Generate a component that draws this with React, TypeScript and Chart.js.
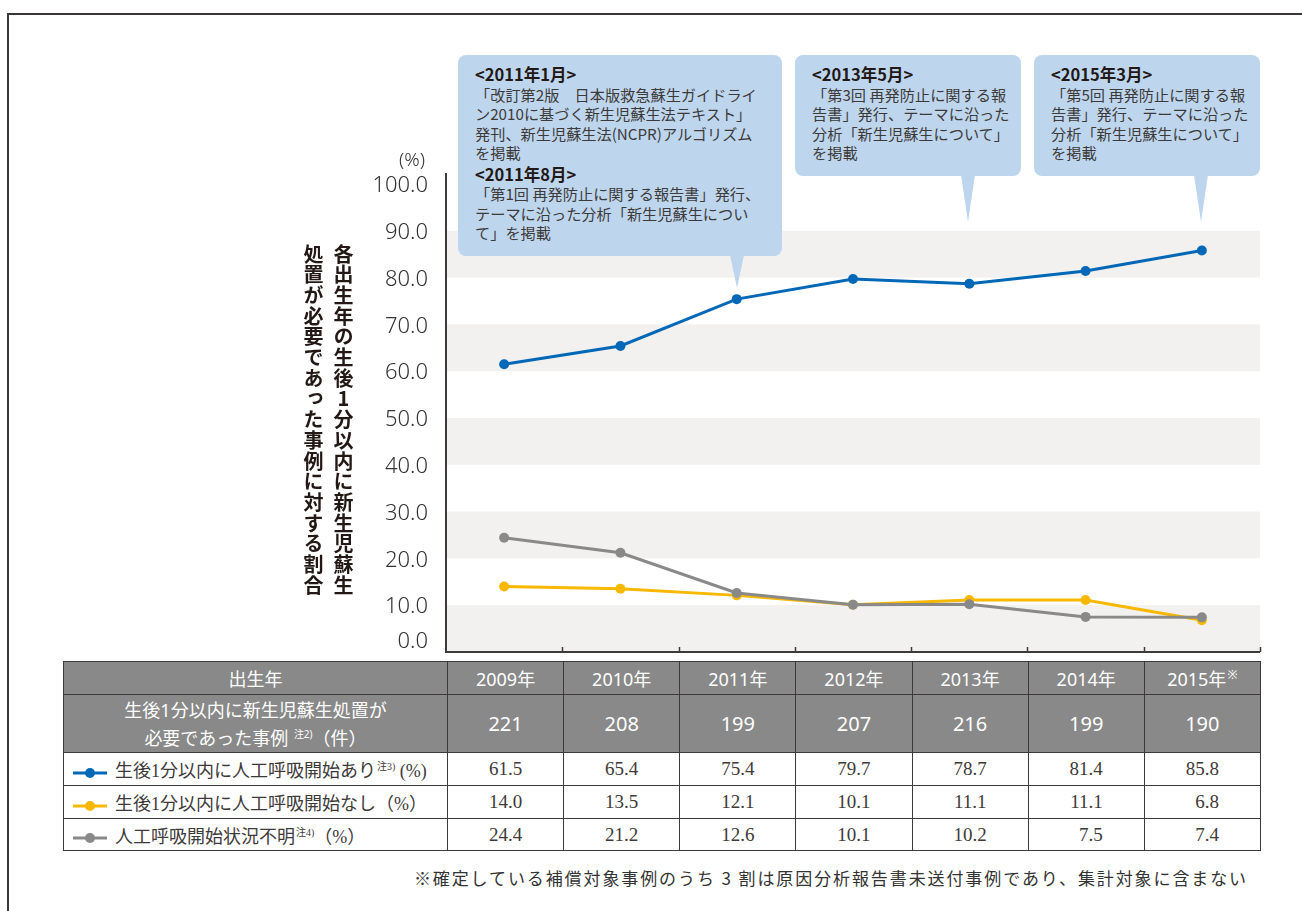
import React, { useEffect, useRef } from "react";
import { Chart, registerables } from "chart.js";

Chart.register(...registerables);

// ---------- data ----------
const years = ["2009年", "2010年", "2011年", "2012年", "2013年", "2014年", "2015年"];
const caseCounts = [221, 208, 199, 207, 216, 199, 190];
const withVentilation = [61.5, 65.4, 75.4, 79.7, 78.7, 81.4, 85.8];
const withoutVentilation = [14.0, 13.5, 12.1, 10.1, 11.1, 11.1, 6.8];
const unknownVentilation = [24.4, 21.2, 12.6, 10.1, 10.2, 7.5, 7.4];
const yTickValues = [0, 10, 20, 30, 40, 50, 60, 70, 80, 90, 100];
const bandStarts = [0, 20, 40, 60, 80];
const seriesNames = [
  "生後1分以内に人工呼吸開始あり",
  "生後1分以内に人工呼吸開始なし",
  "人工呼吸開始状況不明",
];
const seriesNotes = ["注3)", "", "注4)"];
const seriesColors = ["#0068b7", "#f8b800", "#898989"];

const callout1Lines = [
  { t: "<2011年1月>", b: true },
  { t: "「改訂第2版　日本版救急蘇生ガイドライ" },
  { t: "ン2010に基づく新生児蘇生法テキスト」" },
  { t: "発刊、新生児蘇生法(NCPR)アルゴリズム" },
  { t: "を掲載" },
  { t: "<2011年8月>", b: true, gap: true },
  { t: "「第1回 再発防止に関する報告書」発行、" },
  { t: "テーマに沿った分析「新生児蘇生につい" },
  { t: "て」を掲載" },
];
const callout2Lines = [
  { t: "<2013年5月>", b: true },
  { t: "「第3回 再発防止に関する報" },
  { t: "告書」発行、テーマに沿った" },
  { t: "分析「新生児蘇生について」" },
  { t: "を掲載" },
];
const callout3Lines = [
  { t: "<2015年3月>", b: true },
  { t: "「第5回 再発防止に関する報" },
  { t: "告書」発行、テーマに沿った" },
  { t: "分析「新生児蘇生について」" },
  { t: "を掲載" },
];

const DARK = "#3e3a39";
const CALLOUT_BG = "#bdd6ee";
const HEAD_BG = "#898989";

const CanvasChart: React.FC = () => {
  const ref = useRef<HTMLCanvasElement | null>(null);
  useEffect(() => {
    if (!ref.current) return;
    const decor = {
      id: "decor",
      beforeDatasetsDraw(chart: any) {
        const { ctx, chartArea } = chart;
        const y = chart.scales.y;
        const x = chart.scales.x;
        ctx.save();
        ctx.fillStyle = "#f2f1ef";
        bandStarts.forEach((b) => {
          const top = y.getPixelForValue(b + 10);
          const bot = y.getPixelForValue(b);
          ctx.fillRect(chartArea.left, top, chartArea.right - chartArea.left, bot - top);
        });
        ctx.strokeStyle = DARK;
        ctx.lineWidth = 2;
        ctx.beginPath();
        ctx.moveTo(chartArea.left, chartArea.top);
        ctx.lineTo(chartArea.left, chartArea.bottom);
        ctx.lineTo(chartArea.right, chartArea.bottom);
        ctx.stroke();
        ctx.lineWidth = 1.5;
        const step = x.getPixelForValue(1) - x.getPixelForValue(0);
        for (let i = 0; i < years.length; i++) {
          const px = Math.round(x.getPixelForValue(i) + step / 2) + 0.5;
          ctx.beginPath();
          ctx.moveTo(px, chartArea.bottom);
          ctx.lineTo(px, chartArea.bottom - 5);
          ctx.stroke();
        }
        ctx.restore();
      },
      afterDraw(chart: any) {
        const { ctx } = chart;
        const y = chart.scales.y;
        ctx.save();
        ctx.fillStyle = "#333";
        ctx.font = "300 22px 'Noto Sans', sans-serif";
        ctx.textAlign = "right";
        ctx.textBaseline = "middle";
        yTickValues.forEach((v) => {
          const py = y.getPixelForValue(v) + (v === 0 ? -10 : 2);
          ctx.fillText(v.toFixed(1), 428, py);
        });
        ctx.font = "300 19px 'Noto Sans', sans-serif";
        ctx.textAlign = "center";
        ctx.fillText("(%)", 412, 161);
        ctx.restore();
      },
    };

    const chart = new Chart(ref.current, {
      type: "line",
      data: {
        labels: years,
        datasets: [
          { label: seriesNames[0], data: withVentilation, order: 2 },
          { label: seriesNames[1], data: withoutVentilation, order: 1 },
          { label: seriesNames[2], data: unknownVentilation, order: 0 },
        ].map((d, i) => ({
          ...d,
          borderColor: seriesColors[i],
          backgroundColor: seriesColors[i],
          pointBackgroundColor: seriesColors[i],
          pointBorderWidth: 0,
          pointRadius: 5,
          borderWidth: 3,
          tension: 0,
          clip: false as any,
        })),
      },
      options: {
        animation: false,
        responsive: false,
        maintainAspectRatio: false,
        layout: { padding: { left: 446, right: 42, top: 173, bottom: 8 } },
        plugins: { legend: { display: false }, tooltip: { enabled: false } },
        scales: {
          x: { type: "category", offset: true, display: false },
          y: {
            type: "linear",
            min: 0,
            max: 102.35,
            display: false,
            afterBuildTicks: (s: any) => {
              s.ticks = yTickValues.map((v) => ({ value: v }));
            },
          },
        },
      },
      plugins: [decor],
    });
    return () => chart.destroy();
  }, []);
  return (
    <canvas
      ref={ref}
      width={1302}
      height={660}
      style={{ position: "absolute", left: 0, top: 0, width: 1302, height: 660 }}
    />
  );
};

type Line = { t: string; b?: boolean; gap?: boolean };

const Callout: React.FC<{
  left: number;
  top: number;
  width: number;
  height: number;
  tailX: number;
  tipY: number;
  lines: Line[];
}> = ({ left, top, width, height, tailX, tipY, lines }) => (
  <>
    <div
      style={{
        position: "absolute",
        left,
        top,
        width,
        height,
        background: CALLOUT_BG,
        borderRadius: 8,
        boxSizing: "border-box",
        padding: "10px 0 0 17px",
        fontFamily: "'Noto Sans CJK JP', sans-serif",
        fontSize: 15.2,
        lineHeight: "19.5px",
        color: DARK,
        whiteSpace: "nowrap",
      }}
    >
      {lines.map((l, i) => (
        <div
          key={i}
          style={{
            fontWeight: l.b ? 700 : 400,
            fontSize: l.b ? 16.5 : 15.2,
            color: l.b ? "#231815" : DARK,
            marginTop: l.gap ? 2 : 0,
          }}
        >
          {l.t}
        </div>
      ))}
    </div>
    <div
      style={{
        position: "absolute",
        left: tailX - 7,
        top: top + height - 1,
        width: 14,
        height: tipY - (top + height) + 1,
        background: CALLOUT_BG,
        clipPath: "polygon(0 0, 100% 0, 50% 100%)",
      }}
    />
  </>
);

const LegendMark: React.FC<{ color: string }> = ({ color }) => (
  <svg width={34} height={12} style={{ verticalAlign: "middle", marginRight: 8 }}>
    <line x1={0} y1={6} x2={34} y2={6} stroke={color} strokeWidth={3} />
    <circle cx={17} cy={6} r={5} fill={color} />
  </svg>
);

const border = `1.5px solid ${DARK}`;

export default function App() {
  const head: React.CSSProperties = {
    border,
    background: HEAD_BG,
    color: "#fff",
    textAlign: "center",
    padding: 0,
    fontFamily: "'Noto Sans', 'Noto Sans CJK JP', sans-serif",
    fontSize: 18,
  };
  const body: React.CSSProperties = {
    border,
    background: "#fff",
    color: DARK,
    padding: 0,
    fontFamily: "'Liberation Serif', 'Noto Sans CJK JP', serif",
    fontSize: 19,
  };
  const sup: React.CSSProperties = { fontSize: 10, verticalAlign: 7, marginLeft: 1 };
  const rows = [withVentilation, withoutVentilation, unknownVentilation];
  return (
    <div
      style={{
        position: "fixed",
        left: 0,
        top: 0,
        width: 1302,
        height: 911,
        background: "#fff",
        overflow: "hidden",
      }}
    >
      <div
        style={{
          position: "absolute",
          left: 7,
          top: 13,
          width: 1400,
          height: 1000,
          borderTop: "2px solid #3a3536",
          borderLeft: "2px solid #3a3536",
        }}
      />
      <CanvasChart />
      <div
        style={{
          position: "absolute",
          left: 298,
          top: 244,
          height: 370,
          width: 60,
          writingMode: "vertical-rl",
          textOrientation: "upright",
          fontFamily: "'Noto Sans CJK JP', sans-serif",
          fontWeight: 700,
          fontSize: 20,
          letterSpacing: 0.7,
          lineHeight: "30px",
          color: "#231815",
          whiteSpace: "nowrap",
        }}
      >
        各出生年の生後1分以内に新生児蘇生
        <br />
        処置が必要であった事例に対する割合
      </div>
      <Callout left={458} top={55} width={324} height={201} tailX={737} tipY={288} lines={callout1Lines} />
      <Callout left={795} top={55} width={226} height={121} tailX={968} tipY={222} lines={callout2Lines} />
      <Callout left={1034} top={55} width={226} height={121} tailX={1201} tipY={222} lines={callout3Lines} />

      <table
        style={{
          position: "absolute",
          left: 63,
          top: 661,
          width: 1197,
          borderCollapse: "collapse",
          tableLayout: "fixed",
        }}
      >
        <colgroup>
          <col style={{ width: 384 }} />
          {years.map((y) => (
            <col key={y} style={{ width: 116.14 }} />
          ))}
        </colgroup>
        <tbody>
          <tr style={{ height: 33 }}>
            <td style={head}>出生年</td>
            {years.map((y, i) => (
              <td key={y} style={head}>
                {y}
                {i === years.length - 1 && <span style={{ ...sup, fontSize: 12 }}>※</span>}
              </td>
            ))}
          </tr>
          <tr style={{ height: 58 }}>
            <td style={{ ...head, lineHeight: "24px" }}>
              生後1分以内に新生児蘇生処置が
              <br />
              必要であった事例 <span style={sup}>注2)</span>（件）
            </td>
            {caseCounts.map((c, i) => (
              <td key={i} style={{ ...head, fontSize: 20 }}>
                {c}
              </td>
            ))}
          </tr>
          {rows.map((r, ri) => (
            <tr key={ri} style={{ height: ri === 2 ? 32 : 33 }}>
              <td style={{ ...body, paddingLeft: 9, fontSize: 18, whiteSpace: "nowrap" }}>
                <LegendMark color={seriesColors[ri]} />
                {seriesNames[ri]}
                {seriesNotes[ri] && <span style={sup}>{seriesNotes[ri]}</span>}
                {ri === 0 ? " (%)" : "（%）"}
              </td>
              {r.map((v, i) => (
                <td key={i} style={{ ...body, textAlign: "right", paddingRight: 41 }}>
                  {v.toFixed(1)}
                </td>
              ))}
            </tr>
          ))}
        </tbody>
      </table>

      <div
        style={{
          position: "absolute",
          right: 54,
          top: 866,
          fontFamily: "'Noto Sans CJK JP', sans-serif",
          fontSize: 17,
          letterSpacing: 1.9,
          color: "#333",
          whiteSpace: "nowrap",
          lineHeight: "24px",
        }}
      >
        ※確定している補償対象事例のうち 3 割は原因分析報告書未送付事例であり、集計対象に含まない
      </div>
    </div>
  );
}
